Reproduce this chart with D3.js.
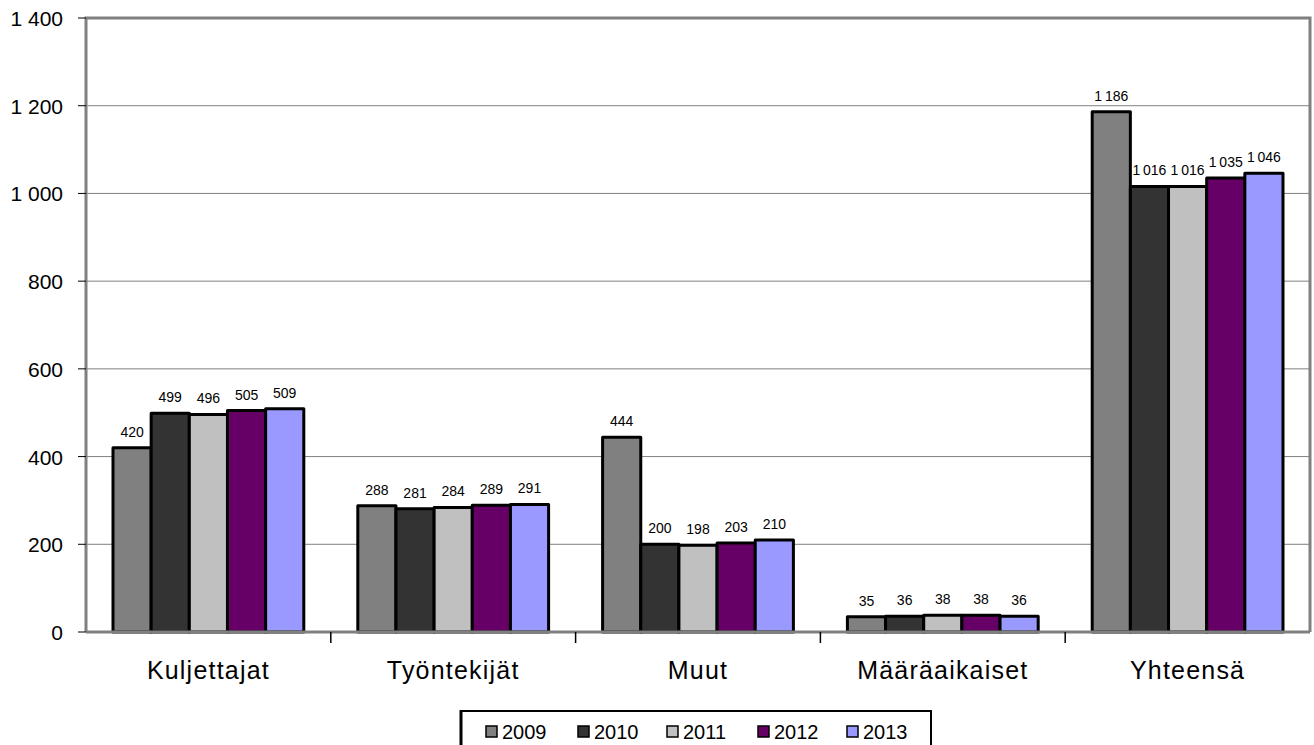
<!DOCTYPE html>
<html lang="fi">
<head>
<meta charset="utf-8">
<title>Henkilöstö</title>
<script src="https://cdn.jsdelivr.net/npm/d3@7"></script>
<style>
  body { margin: 0; background: #fff; }
  text { font-family: "Liberation Sans", Arial, sans-serif; }
</style>
</head>
<body>
<script>
// data
var categories = ["Kuljettajat", "Työntekijät", "Muut", "Määräaikaiset", "Yhteensä"]
var years = ["2009", "2010", "2011", "2012", "2013"]
var values = [
  [420, 288, 444, 35, 1186],   // 2009
  [499, 281, 200, 36, 1016],   // 2010
  [496, 284, 198, 38, 1016],   // 2011
  [505, 289, 203, 38, 1035],   // 2012
  [509, 291, 210, 36, 1046]    // 2013
]
var colors = ["#808080", "#333333", "#c0c0c0", "#660066", "#9999ff"]
var yTicks = [0, 200, 400, 600, 800, 1000, 1200, 1400]

var w = 1314, h = 745
var pLeft = 86, pRight = 1310, pTop = 18, pBottom = 632

// thousands separated by a space, like the original
var fmtSep = function(sep) {
  return function(v) {
    var s = String(v)
    return s.length > 3 ? s.slice(0, s.length - 3) + sep + s.slice(-3) : s
  }
}
var fmt = fmtSep(" ")
var fmtLabel = fmtSep("\u2009")

var svg = d3.select("body").append("svg").attr("width", w).attr("height", h)

var y = d3.scaleLinear().domain([0, 1400]).range([pBottom, pTop])
var x0 = d3.scaleBand().domain(categories).range([pLeft, pRight])
var groupPad = 27
var x1 = d3.scaleBand().domain(years).range([groupPad, x0.bandwidth() - groupPad])

// grid lines
svg.selectAll(".grid")
  .data(yTicks.filter(function(d) { return d > 0 && d < 1400 }))
  .enter().append("line")
  .attr("x1", pLeft).attr("x2", pRight)
  .attr("y1", function(d) { return y(d) }).attr("y2", function(d) { return y(d) })
  .attr("stroke", "#808080").attr("stroke-width", 1)

// frame
svg.append("path")
  .attr("d", "M" + pLeft + "," + pBottom + "V" + pTop + "H" + pRight + "V" + pBottom)
  .attr("fill", "none").attr("stroke", "#808080").attr("stroke-width", 3)

// y axis ticks + labels
svg.selectAll(".ytick")
  .data(yTicks).enter().append("line")
  .attr("x1", pLeft - 8).attr("x2", pLeft)
  .attr("y1", function(d) { return y(d) }).attr("y2", function(d) { return y(d) })
  .attr("stroke", "#000").attr("stroke-width", 1)

svg.selectAll(".ylab")
  .data(yTicks).enter().append("text")
  .attr("x", 63)
  .attr("y", function(d) { return y(d) + 8 })
  .attr("text-anchor", "end")
  .style("font-size", "21px")
  .text(fmt)

// bars
var groups = svg.selectAll(".year")
  .data(years).enter().append("g")

groups.each(function(yr, si) {
  var g = d3.select(this)
  g.selectAll("rect")
    .data(values[si]).enter().append("rect")
    .attr("x", function(d, ci) { return x0(categories[ci]) + x1(yr) })
    .attr("y", function(d) { return y(d) })
    .attr("width", x1.bandwidth())
    .attr("height", function(d) { return pBottom - y(d) })
    .attr("fill", colors[si])
    .attr("stroke", "#000")
    .attr("stroke-width", 3)
    .attr("stroke-linejoin", "round")
  g.selectAll("text")
    .data(values[si]).enter().append("text")
    .attr("x", function(d, ci) { return x0(categories[ci]) + x1(yr) + x1.bandwidth() / 2 })
    .attr("y", function(d) { return y(d) - 11 })
    .attr("text-anchor", "middle")
    .style("font-size", "14px")
    .text(fmtLabel)
})

// x axis line
svg.append("line")
  .attr("x1", pLeft).attr("x2", pRight)
  .attr("y1", pBottom).attr("y2", pBottom)
  .attr("stroke", "#808080").attr("stroke-width", 3)

// category ticks
svg.selectAll(".xtick")
  .data(categories.slice(1)).enter().append("line")
  .attr("x1", function(d) { return x0(d) }).attr("x2", function(d) { return x0(d) })
  .attr("y1", pBottom).attr("y2", pBottom + 11)
  .attr("stroke", "#000").attr("stroke-width", 1.5)

svg.selectAll(".xlab")
  .data(categories).enter().append("text")
  .attr("x", function(d) { return x0(d) + x0.bandwidth() / 2 })
  .attr("y", 679)
  .attr("text-anchor", "middle")
  .style("font-size", "25px")
  .style("letter-spacing", "1.2px")
  .text(function(d) { return d })

// legend
var legend = svg.append("g")
legend.append("rect")
  .attr("x", 461).attr("y", 711).attr("width", 470).attr("height", 40)
  .attr("fill", "#fff").attr("stroke", "#000").attr("stroke-width", 2)
legend.append("line")
  .attr("x1", 461).attr("x2", 461).attr("y1", 710).attr("y2", 745)
  .attr("stroke", "#000").attr("stroke-width", 3)

var legX = d3.scaleOrdinal().domain(years).range([486, 578, 667, 758, 847])
var items = legend.selectAll(".item").data(years).enter().append("g")
items.append("rect")
  .attr("x", function(d) { return legX(d) })
  .attr("y", 726).attr("width", 11).attr("height", 11)
  .attr("fill", function(d, i) { return colors[i] })
  .attr("stroke", "#000").attr("stroke-width", 1.5)
items.append("text")
  .attr("x", function(d) { return legX(d) + 16 })
  .attr("y", 739)
  .style("font-size", "20px")
  .text(function(d) { return d })
</script>
</body>
</html>
